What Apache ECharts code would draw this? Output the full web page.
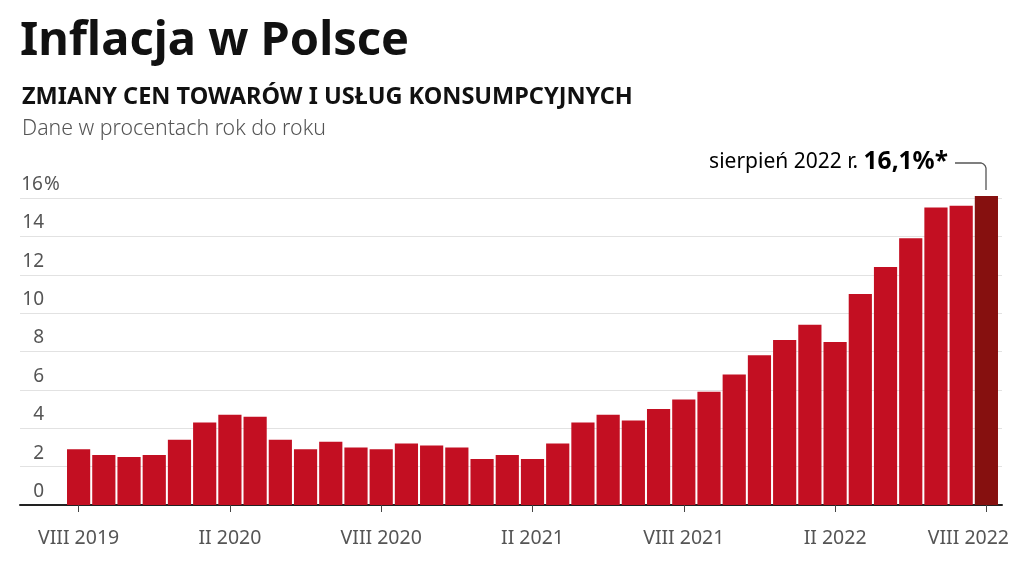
<!DOCTYPE html>
<html><head><meta charset="utf-8">
<script src="https://cdn.jsdelivr.net/npm/echarts@6/dist/echarts.min.js"></script>
<style>html,body{margin:0;padding:0;background:#fff}#c{width:1024px;height:576px}</style>
</head><body><div id="c"></div>
<script>
const categories = ["VIII 2019","IX 2019","X 2019","XI 2019","XII 2019",
"I 2020","II 2020","III 2020","IV 2020","V 2020","VI 2020","VII 2020","VIII 2020","IX 2020","X 2020","XI 2020","XII 2020",
"I 2021","II 2021","III 2021","IV 2021","V 2021","VI 2021","VII 2021","VIII 2021","IX 2021","X 2021","XI 2021","XII 2021",
"I 2022","II 2022","III 2022","IV 2022","V 2022","VI 2022","VII 2022","VIII 2022"];
const inflation = [2.9,2.6,2.5,2.6,3.4,
4.3,4.7,4.6,3.4,2.9,3.3,3.0,2.9,3.2,3.1,3.0,2.4,
2.6,2.4,3.2,4.3,4.7,4.4,5.0,5.5,5.9,6.8,7.8,8.6,
9.4,8.5,11.0,12.4,13.9,15.5,15.6,16.1];
const yTicks = [0,2,4,6,8,10,12,14,16];
const titleText = "Inflacja w Polsce";
const subtitleText = "ZMIANY CEN TOWARÓW I USŁUG KONSUMPCYJNYCH";
const noteText = "Dane w procentach rok do roku";
const annoPrefix = "sierpień 2022 r. ";
const annoValue = "16,1%*";

const RED = "#c30f22", DARK = "#86100f", FONT = "Noto Sans";
const chart = echarts.init(document.getElementById('c'), null, {renderer:'canvas'});
const lastIdx = inflation.length - 1;
const catData = categories.map((c,i)=> i===lastIdx ? {value:c,textStyle:{padding:[0,36,0,0]}} : c);
chart.setOption({
  animation:false,
  textStyle:{fontFamily:FONT},
  title:[
    {text:titleText,left:15,top:13,textStyle:{fontFamily:FONT,fontSize:47,fontWeight:'bold',color:'#111'}},
    {text:subtitleText,left:17,top:80,textStyle:{fontFamily:FONT,fontSize:23.5,fontWeight:'bold',color:'#111'}},
    {text:noteText,left:17,top:113,textStyle:{fontFamily:FONT,fontSize:21.3,fontWeight:300,color:'#555'}}
  ],
  grid:[
    {left:20,right:22,top:198,bottom:71,outerBoundsMode:'none'},
    {left:66,right:25,top:198,bottom:71,outerBoundsMode:'none'}
  ],
  xAxis:[
    {gridIndex:0,type:'value',min:0,max:1,axisLabel:{show:false},axisTick:{show:false},splitLine:{show:false},
     axisLine:{show:true,lineStyle:{color:'#222',width:2}}},
    {gridIndex:1,type:'category',data:catData,boundaryGap:true,
     axisLine:{show:false},
     axisTick:{show:true,alignWithLabel:true,interval:5,length:7,lineStyle:{color:'#444'}},
     axisLabel:{interval:5,margin:23,fontSize:19.5,color:'#555',fontFamily:FONT}}
  ],
  yAxis:[
    {gridIndex:0,type:'value',min:yTicks[0],max:yTicks[yTicks.length-1],interval:2,
     axisLine:{show:false},axisTick:{show:false},
     splitLine:{show:true,lineStyle:{color:'#e2e2e2',width:1}},
     axisLabel:{inside:true,margin:0,verticalAlign:'bottom',align:'left',padding:[0,0,4,0],
       formatter:v=> v===yTicks[yTicks.length-1] ? '{n|'+v+'}{p|%}' : '{n|'+v+'}',
       rich:{n:{width:24,align:'right',fontSize:19,color:'#555',fontFamily:FONT},
             p:{fontSize:19,color:'#555',fontFamily:FONT}}}},
    {gridIndex:1,type:'value',min:yTicks[0],max:yTicks[yTicks.length-1],interval:2,show:false,splitLine:{show:false}}
  ],
  series:[{
    type:'bar',xAxisIndex:1,yAxisIndex:1,clip:false,barCategoryGap:'8%',
    data:inflation.map((v,i)=>({value:v,itemStyle:{color:i===lastIdx?DARK:RED}})),
    z:3
  }]
});
const topPt = chart.convertToPixel({xAxisIndex:1,yAxisIndex:1},[lastIdx,inflation[lastIdx]]);
const px = Math.round(topPt[0]), py = topPt[1];
const ly = 163;
chart.setOption({graphic:[
  {type:'text',z:10,style:{x:px-38,y:ly-1,align:'right',verticalAlign:'middle',
    text:'{a|'+annoPrefix+'}{b|'+annoValue+'}',
    rich:{a:{fontSize:21,color:'#555',fontFamily:FONT},b:{fontSize:24.5,fontWeight:'bold',color:'#111',fontFamily:FONT}}}},
  {type:'polyline',z:10,shape:{points:[[px-31,ly],[px-5,ly],[px-2.5,ly+1],[px-0.8,ly+2.8],[px,ly+5],[px,py-6]]},
   style:{stroke:'#555',lineWidth:1.3,fill:null}}
]});
</script></body></html>
